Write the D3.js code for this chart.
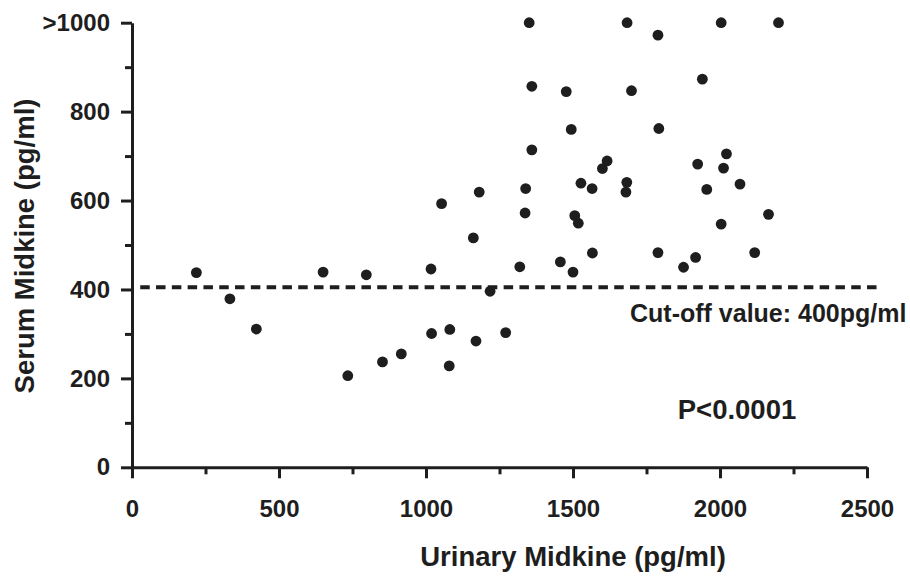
<!DOCTYPE html>
<html>
<head>
<meta charset="utf-8">
<script src="https://cdn.jsdelivr.net/npm/d3@7"></script>
<style>
  html, body { margin: 0; padding: 0; background: #fff; }
  svg { display: block; }
  text { font-family: "Liberation Sans", Arial, sans-serif; font-weight: bold; fill: #1e1e1e; }
</style>
</head>
<body>
<svg id="chart" width="910" height="578"></svg>
<script>
// Urinary midkine (pg/ml) for each patient
const urinary = [219, 333, 423, 650, 734, 797, 852, 916, 1017, 1019,
  1053, 1079, 1081, 1161, 1170, 1181, 1218, 1271, 1319, 1337,
  1339, 1351, 1360, 1360, 1457, 1477, 1494, 1500, 1506, 1518,
  1527, 1565, 1566, 1600, 1616, 1680, 1683, 1684, 1699, 1789,
  1789, 1792, 1876, 1917, 1924, 1940, 1955, 2004, 2004, 2012,
  2022, 2068, 2118, 2165, 2199];
// Serum midkine (pg/ml), >1000 drawn at 1000
const serum = [438, 379, 311, 439, 206, 433, 237, 255, 446, 301,
  593, 228, 310, 516, 284, 619, 396, 303, 451, 572,
  627, 1000, 857, 714, 462, 845, 760, 439, 566, 549,
  639, 627, 482, 672, 689, 619, 641, 1000, 847, 972,
  483, 762, 450, 472, 682, 873, 625, 1000, 547, 673,
  705, 637, 483, 569, 1000];
const xTicks = [0, 500, 1000, 1500, 2000, 2500];
const xMinorTicks = [250, 750, 1250, 1750, 2250];
const yTicks = [0, 200, 400, 600, 800, 1000];
const yTickLabels = ["0", "200", "400", "600", "800", ">1000"];
const yMinorTicks = [100, 300, 500, 700, 900];
const cutoff = 405;
const cutoffLabel = "Cut-off value: 400pg/ml";
const pLabel = "P<0.0001";
const xTitle = "Urinary Midkine (pg/ml)";
const yTitle = "Serum Midkine (pg/ml)";

const svg = d3.select("#chart");
const x = d3.scaleLinear().domain([0, 2500]).range([132, 867]);
const y = d3.scaleLinear().domain([0, 1000]).range([467.3, 22.7]);
const ink = "#1e1e1e";

// dashed cut-off line
svg.append("line")
  .attr("x1", x(28)).attr("x2", x(2540))
  .attr("y1", y(cutoff)).attr("y2", y(cutoff))
  .attr("stroke", ink).attr("stroke-width", 4.2)
  .attr("stroke-dasharray", "9.5,6.3");

// axes
function styleAxis(g) {
  g.select(".domain").attr("stroke", ink).attr("stroke-width", 3);
  g.selectAll(".tick line").attr("stroke", ink).attr("stroke-width", 3);
  g.selectAll(".tick text").attr("fill", ink)
    .style("font-family", '"Liberation Sans", Arial, sans-serif')
    .style("font-weight", "bold").style("font-size", "24px");
}

const xAxis = svg.append("g").attr("transform", `translate(0,${y(0)})`)
  .call(d3.axisBottom(x).tickValues(xTicks).tickFormat(d3.format("d"))
    .tickSize(11).tickPadding(22).tickSizeOuter(0));
styleAxis(xAxis);
xAxis.selectAll(".tick text").attr("dy", "0.71em");

const xMinor = svg.append("g").attr("transform", `translate(0,${y(0)})`)
  .call(d3.axisBottom(x).tickValues(xMinorTicks).tickSize(7).tickFormat(""));
xMinor.select(".domain").remove();
xMinor.selectAll(".tick line").attr("stroke", ink).attr("stroke-width", 3);

const yAxis = svg.append("g").attr("transform", `translate(${x(0)},0)`)
  .call(d3.axisLeft(y).tickValues(yTicks).tickFormat((d, i) => yTickLabels[i])
    .tickSize(11).tickPadding(11).tickSizeOuter(0));
styleAxis(yAxis);

const yMinor = svg.append("g").attr("transform", `translate(${x(0)},0)`)
  .call(d3.axisLeft(y).tickValues(yMinorTicks).tickSize(7).tickFormat(""));
yMinor.select(".domain").remove();
yMinor.selectAll(".tick line").attr("stroke", ink).attr("stroke-width", 3);

// points
svg.append("g").selectAll("circle")
  .data(urinary.map((u, i) => ({ u, s: serum[i] })))
  .join("circle")
  .attr("cx", d => x(d.u)).attr("cy", d => y(d.s))
  .attr("r", 5.4).attr("fill", ink);

// annotations
svg.append("text").attr("x", 630).attr("y", 322)
  .style("font-size", "25px").text(cutoffLabel);
svg.append("text").attr("x", 737).attr("y", 419).attr("text-anchor", "middle")
  .style("font-size", "27.5px").text(pLabel);

// axis titles
svg.append("text").attr("x", 573).attr("y", 566).attr("text-anchor", "middle")
  .style("font-size", "27.5px").text(xTitle);
svg.append("text").attr("transform", "translate(34,246) rotate(-90)")
  .attr("text-anchor", "middle")
  .style("font-size", "27.5px").text(yTitle);
</script>
</body>
</html>
